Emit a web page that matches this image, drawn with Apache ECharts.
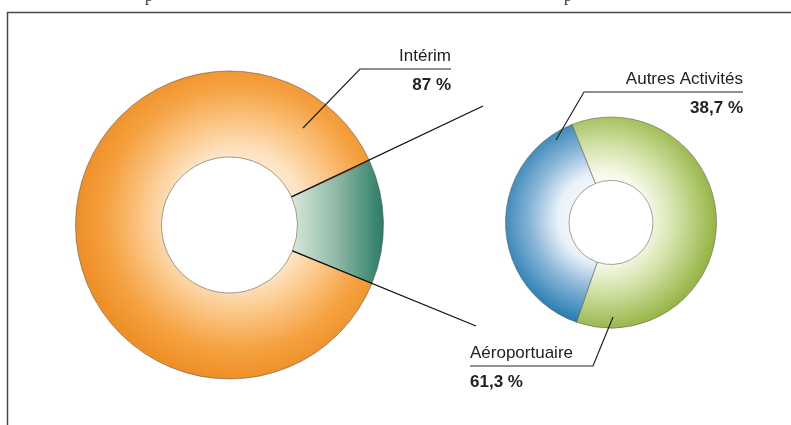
<!DOCTYPE html>
<html>
<head>
<meta charset="utf-8">
<script src="https://cdn.jsdelivr.net/npm/echarts@6/dist/echarts.min.js"></script>
<style>
  html, body { margin: 0; padding: 0; background: #fff; }
  #chart { width: 791px; height: 425px; }
</style>
</head>
<body>
<div id="chart"></div>
<script>
// data
const mainNames = ['Autres', 'Intérim'];
const mainValues = [13, 87];
const subNames = ['Autres Activités', 'Aéroportuaire'];
const subValues = [38.7, 61.3];

const fmt = v => String(v).replace('.', ',') + ' %';

const chart = echarts.init(document.getElementById('chart'));

// layout
const mainC = [229.5, 225], mainR = [68, 154];
const subC = [611, 222.5], subR = [42, 105.5];
const mainStart = 24.5;
const subStart = 251;
const font = '"Liberation Sans", Arial, sans-serif';

// label callouts: start inside ring, elbow, end of underline
const callouts = [
  { name: mainNames[1], value: mainValues[1], pts: [[303, 128], [360, 69], [451, 69]], align: 'right' },
  { name: subNames[0], value: subValues[0], pts: [[556, 140], [584, 92], [743, 92]], align: 'right' },
  { name: subNames[1], value: subValues[1], pts: [[613, 317], [593, 366], [470, 366]], align: 'left' }
];

const graphics = [];
// frame
graphics.push({
  type: 'polyline', z: 100, silent: true,
  shape: { points: [[7.5, 440], [7.5, 12.5], [800, 12.5]] },
  style: { stroke: '#4a4a4a', lineWidth: 1.5, fill: null }
});
// bits of the cut title above the frame
[149, 568].forEach(x => graphics.push({
  type: 'text', x: x, y: -11, z: 100, silent: true,
  style: { text: 'p', fontFamily: '"Liberation Serif", serif', fontSize: 16, fill: '#333', align: 'center', verticalAlign: 'top' }
}));

// connector lines from the split slice to the second donut
const frac = mainValues[0] / mainValues.reduce((a, b) => a + b, 0);
const a1 = mainStart * Math.PI / 180;
const a2 = (mainStart - frac * 360) * Math.PI / 180;
const p1 = [mainC[0] + mainR[0] * Math.cos(a1), mainC[1] - mainR[0] * Math.sin(a1)];
const p2 = [mainC[0] + mainR[0] * Math.cos(a2), mainC[1] - mainR[0] * Math.sin(a2)];
graphics.push({
  type: 'line', z: 100, silent: true,
  shape: { x1: p1[0], y1: p1[1], x2: 483, y2: 106 },
  style: { stroke: '#111', lineWidth: 1.3 }
});
graphics.push({
  type: 'line', z: 100, silent: true,
  shape: { x1: p2[0], y1: p2[1], x2: 476, y2: 326 },
  style: { stroke: '#111', lineWidth: 1.3 }
});

callouts.forEach(c => {
  graphics.push({
    type: 'polyline', z: 100, silent: true,
    shape: { points: c.pts },
    style: { stroke: '#222', lineWidth: 1.2, fill: null }
  });
  const ex = c.pts[2][0];
  const ly = c.pts[2][1];
  graphics.push({
    type: 'text', x: ex, y: ly - 13, z: 100, silent: true,
    style: { text: c.name, fontFamily: font, fontSize: 17, fill: '#222', align: c.align, verticalAlign: 'middle' }
  });
  graphics.push({
    type: 'text', x: ex, y: ly + 16, z: 100, silent: true,
    style: { text: fmt(c.value), fontFamily: font, fontSize: 17, fontWeight: 'bold', fill: '#222', align: c.align, verticalAlign: 'middle' }
  });
});

const orangeFill = {
  type: 'radial', x: 238, y: 218, r: 160, global: true,
  colorStops: [
    { offset: 0, color: '#fff6ea' },
    { offset: 0.42, color: '#fde3c2' },
    { offset: 0.6, color: '#fbc685' },
    { offset: 0.82, color: '#f5a242' },
    { offset: 1, color: '#ef9027' }
  ]
};
const tealFill = {
  type: 'linear', x: 0, y: 0, x2: 1, y2: 0,
  colorStops: [
    { offset: 0, color: '#d8e9da' },
    { offset: 0.5, color: '#8db8a4' },
    { offset: 1, color: '#2a7b66' }
  ]
};
const blueFill = {
  type: 'radial', x: 603, y: 218, r: 112, global: true,
  colorStops: [
    { offset: 0, color: '#ffffff' },
    { offset: 0.4, color: '#eaf2f9' },
    { offset: 0.65, color: '#88b5d8' },
    { offset: 1, color: '#1673ab' }
  ]
};
const greenFill = {
  type: 'radial', x: 603, y: 218, r: 112, global: true,
  colorStops: [
    { offset: 0, color: '#ffffff' },
    { offset: 0.4, color: '#f7faea' },
    { offset: 0.65, color: '#d3e2a8' },
    { offset: 1, color: '#97b647' }
  ]
};

chart.setOption({
  animation: false,
  backgroundColor: '#fff',
  graphic: graphics,
  series: [
    {
      type: 'pie', silent: true,
      center: mainC, radius: mainR,
      startAngle: mainStart, clockwise: true,
      label: { show: false }, labelLine: { show: false },
      itemStyle: { borderColor: 'rgba(90,80,70,0.55)', borderWidth: 1 },
      data: mainNames.map((n, i) => ({
        name: n, value: mainValues[i],
        itemStyle: { color: i === 0 ? tealFill : orangeFill }
      }))
    },
    {
      type: 'pie', silent: true,
      center: subC, radius: subR,
      startAngle: subStart, clockwise: true,
      label: { show: false }, labelLine: { show: false },
      itemStyle: { borderColor: 'rgba(90,90,90,0.55)', borderWidth: 1 },
      data: subNames.map((n, i) => ({
        name: n, value: subValues[i],
        itemStyle: { color: i === 0 ? blueFill : greenFill }
      }))
    }
  ]
});
</script>
</body>
</html>
